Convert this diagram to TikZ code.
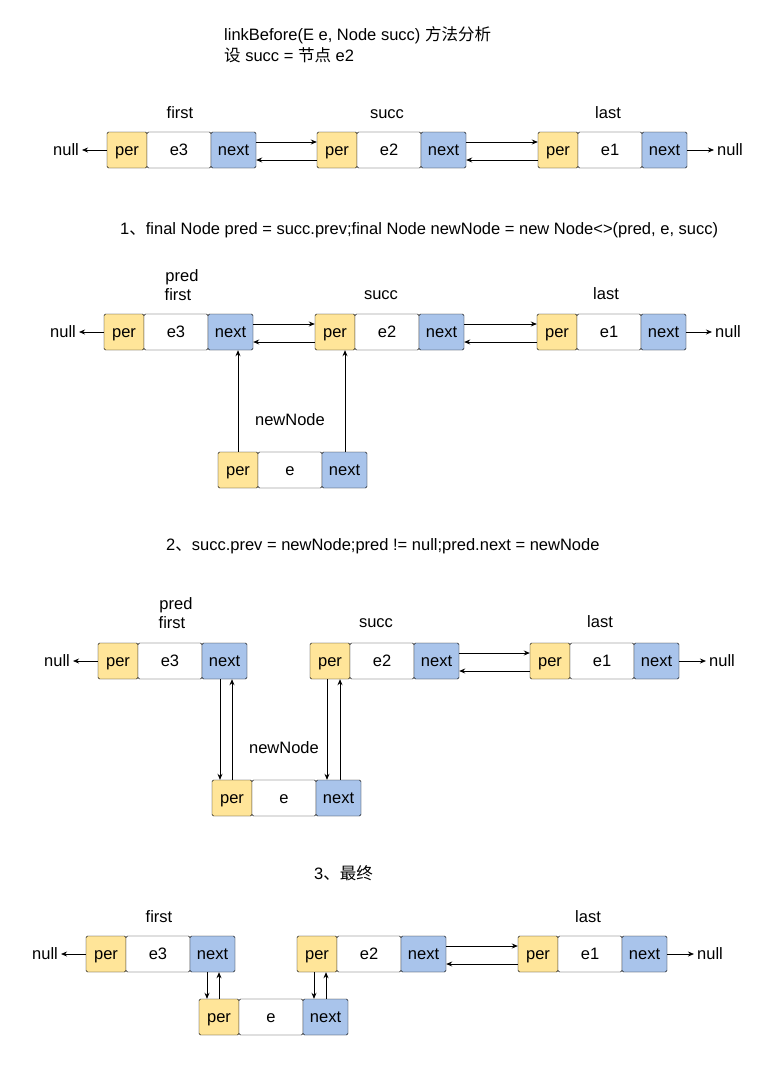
\documentclass[tikz,border=0pt]{standalone}
\usepackage{fontspec}
\setmainfont{Liberation Sans}
\newfontfamily\cjk{Noto Sans CJK SC}
\usetikzlibrary{arrows.meta}
\definecolor{py}{HTML}{FFE599}
\definecolor{nb}{HTML}{A9C4EB}
\newcommand\llnode[4]{%
 \node[cell,fill=py,minimum width=40pt] (#1p) at (#2+20,#3) {per};
 \node[cell,fill=white,minimum width=64pt] (#1v) at (#2+72,#3) {#4};
 \node[cell,fill=nb,minimum width=45pt] (#1n) at (#2+126.5,#3) {next};}
\begin{document}
\begin{tikzpicture}[x=1pt,y=1pt,font=\fontsize{16.5}{19}\selectfont,
 cell/.style={draw,rounded corners=1.5pt,minimum height=36pt,inner sep=0pt,text height=11pt,text depth=1pt},
 arr/.style={-{Stealth[length=6pt,width=5pt]},line width=0.8pt},
 lbl/.style={inner sep=0pt,text height=11pt,text depth=3pt}]
\useasboundingbox (0,0) rectangle (773,-1082);
\node[lbl,anchor=west] (h1) at (224,-36) {linkBefore(E e, Node succ) {\cjk 方法分析}};
\node[lbl,anchor=west] (h2) at (224,-57) {{\cjk 设} succ = {\cjk 节点} e2};
% row 1
\llnode{a1}{107}{-150}{e3}
\llnode{b1}{317}{-150}{e2}
\llnode{c1}{538}{-150}{e1}
\node[lbl] (f1) at (180,-114) {first};
\node[lbl] (s1) at (387,-114) {succ};
\node[lbl] (t1) at (608,-114) {last};
\node[lbl] (l1) at (66,-151) {null};
\node[lbl] (r1) at (730,-151) {null};
\draw[arr] (a1p.west) -- ([xshift=3pt]a1p.west -| l1.east);
\draw[arr] (c1n.east) -- ([xshift=-3pt]c1n.east -| r1.west);
\draw[arr] ([yshift=8pt]a1n.east) -- ([yshift=8pt]b1p.west);
\draw[arr] ([yshift=-10pt]b1p.west) -- ([yshift=-10pt]a1n.east);
\draw[arr] ([yshift=8pt]b1n.east) -- ([yshift=8pt]c1p.west);
\draw[arr] ([yshift=-10pt]c1p.west) -- ([yshift=-10pt]b1n.east);
% step 1
\node[lbl,anchor=west] (st1) at (120,-230) {1{\cjk 、}final Node pred = succ.prev;final Node newNode = new Node<>(pred, e, succ)};
\llnode{a2}{104}{-332}{e3}
\llnode{b2}{315}{-332}{e2}
\llnode{c2}{537}{-332}{e1}
\llnode{d2}{218}{-470}{e}
\node[lbl] (p2) at (182,-277) {pred};
\node[lbl] (f2) at (178,-296) {first};
\node[lbl] (s2) at (381,-295) {succ};
\node[lbl] (t2) at (606,-295) {last};
\node[lbl] (n2) at (290,-421) {newNode};
\node[lbl] (l2) at (63,-333) {null};
\node[lbl] (r2) at (728,-333) {null};
\draw[arr] (a2p.west) -- ([xshift=3pt]a2p.west -| l2.east);
\draw[arr] (c2n.east) -- ([xshift=-3pt]c2n.east -| r2.west);
\draw[arr] ([yshift=8pt]a2n.east) -- ([yshift=8pt]b2p.west);
\draw[arr] ([yshift=-10pt]b2p.west) -- ([yshift=-10pt]a2n.east);
\draw[arr] ([yshift=8pt]b2n.east) -- ([yshift=8pt]c2p.west);
\draw[arr] ([yshift=-10pt]c2p.west) -- ([yshift=-10pt]b2n.east);
\draw[arr] (d2p.north -| 238,0) -- (a2n.south -| 238,0);
\draw[arr] (d2n.north -| 345,0) -- (b2p.south -| 345,0);
% step 2
\node[lbl,anchor=west] (st2) at (166,-546) {2{\cjk 、}succ.prev = newNode;pred != null;pred.next = newNode};
\llnode{a3}{98}{-661}{e3}
\llnode{b3}{310}{-661}{e2}
\llnode{c3}{530}{-661}{e1}
\llnode{d3}{212}{-798}{e}
\node[lbl] (p3) at (176,-605) {pred};
\node[lbl] (f3) at (172,-624) {first};
\node[lbl] (s3) at (376,-623) {succ};
\node[lbl] (t3) at (600,-623) {last};
\node[lbl] (n3) at (284,-749) {newNode};
\node[lbl] (l3) at (57,-662) {null};
\node[lbl] (r3) at (722,-662) {null};
\draw[arr] (a3p.west) -- ([xshift=3pt]a3p.west -| l3.east);
\draw[arr] (c3n.east) -- ([xshift=-3pt]c3n.east -| r3.west);
\draw[arr] ([yshift=8pt]b3n.east) -- ([yshift=8pt]c3p.west);
\draw[arr] ([yshift=-10pt]c3p.west) -- ([yshift=-10pt]b3n.east);
\draw[arr] (a3n.south -| 220,0) -- (d3p.north -| 220,0);
\draw[arr] (d3p.north -| 232,0) -- (a3n.south -| 232,0);
\draw[arr] (b3p.south -| 327,0) -- (d3n.north -| 327,0);
\draw[arr] (d3n.north -| 340,0) -- (b3p.south -| 340,0);
% step 3
\node[lbl,anchor=west] (st3) at (314,-875) {3{\cjk 、最终}};
\llnode{a4}{86}{-954}{e3}
\llnode{b4}{297}{-954}{e2}
\llnode{c4}{518}{-954}{e1}
\llnode{d4}{199}{-1017}{e}
\node[lbl] (f4) at (159,-918) {first};
\node[lbl] (t4) at (588,-918) {last};
\node[lbl] (l4) at (45,-955) {null};
\node[lbl] (r4) at (710,-955) {null};
\draw[arr] (a4p.west) -- ([xshift=3pt]a4p.west -| l4.east);
\draw[arr] (c4n.east) -- ([xshift=-3pt]c4n.east -| r4.west);
\draw[arr] ([yshift=8pt]b4n.east) -- ([yshift=8pt]c4p.west);
\draw[arr] ([yshift=-10pt]c4p.west) -- ([yshift=-10pt]b4n.east);
\draw[arr] (a4n.south -| 207,0) -- (d4p.north -| 207,0);
\draw[arr] (d4p.north -| 219,0) -- (a4n.south -| 219,0);
\draw[arr] (b4p.south -| 314,0) -- (d4n.north -| 314,0);
\draw[arr] (d4n.north -| 326,0) -- (b4p.south -| 326,0);
\end{tikzpicture}
\end{document}
